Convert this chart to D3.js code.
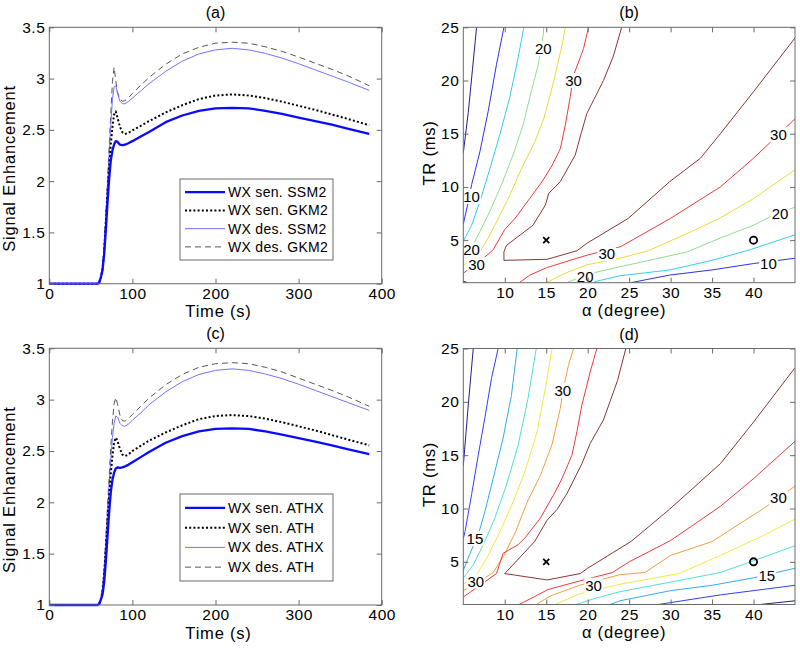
<!DOCTYPE html>
<html><head><meta charset="utf-8">
<script src="https://cdn.jsdelivr.net/npm/d3@7"></script>
<style>
body{margin:0;background:#fff}
text{font-family:"Liberation Sans",Arial,sans-serif;fill:#000}
</style>
</head><body>
<svg id="chart" width="800" height="649"></svg>
<script>
// ---------- line chart data (a) and (c) ----------
const time = [0,58,60,62,64,66,68,70,72,74,76,78,80,82,85,88,91,95,100,110,120,140,160,180,200,220,240,260,280,300,320,340,360,385];
const aSenSSM2 = [1,1,1.01,1.06,1.13,1.28,1.52,1.78,2.02,2.2,2.3,2.36,2.39,2.385,2.355,2.35,2.355,2.37,2.39,2.435,2.48,2.575,2.64,2.685,2.71,2.715,2.71,2.685,2.655,2.62,2.585,2.55,2.51,2.46];
const aSenGKM2 = [1,1,1.01,1.06,1.14,1.32,1.6,1.88,2.14,2.36,2.53,2.65,2.68,2.62,2.53,2.475,2.46,2.47,2.495,2.54,2.585,2.67,2.74,2.8,2.835,2.845,2.835,2.81,2.775,2.735,2.695,2.65,2.605,2.545];
const aDesSSM2 = [1,1,1.01,1.06,1.15,1.35,1.64,1.95,2.25,2.55,2.8,2.92,2.93,2.86,2.78,2.755,2.755,2.775,2.81,2.88,2.95,3.07,3.17,3.24,3.28,3.295,3.28,3.245,3.2,3.145,3.085,3.025,2.965,2.885];
const aDesGKM2 = [1,1,1.01,1.06,1.16,1.37,1.68,2.0,2.33,2.66,2.97,3.11,2.98,2.87,2.8,2.78,2.785,2.81,2.855,2.935,3.01,3.14,3.24,3.305,3.345,3.355,3.345,3.31,3.265,3.21,3.15,3.09,3.025,2.93];
const cSenATHX = [1,1,1.01,1.05,1.1,1.22,1.42,1.66,1.9,2.1,2.22,2.29,2.33,2.34,2.335,2.34,2.35,2.365,2.39,2.44,2.49,2.58,2.645,2.69,2.715,2.72,2.715,2.69,2.66,2.625,2.59,2.555,2.515,2.47];
const cSenATH  = [1,1,1.01,1.06,1.13,1.3,1.55,1.82,2.07,2.28,2.45,2.58,2.63,2.6,2.52,2.465,2.45,2.465,2.5,2.55,2.6,2.68,2.75,2.81,2.84,2.85,2.84,2.815,2.78,2.74,2.7,2.655,2.61,2.555];
const cDesATHX = [1,1,1.01,1.06,1.15,1.33,1.6,1.88,2.16,2.42,2.63,2.77,2.84,2.83,2.77,2.745,2.74,2.76,2.8,2.87,2.95,3.075,3.175,3.245,3.285,3.3,3.285,3.25,3.205,3.15,3.09,3.03,2.97,2.895];
const cDesATH  = [1,1,1.01,1.06,1.16,1.36,1.65,1.95,2.25,2.54,2.79,2.96,3.02,2.96,2.85,2.795,2.79,2.815,2.855,2.935,3.015,3.145,3.245,3.315,3.35,3.36,3.35,3.315,3.27,3.21,3.15,3.09,3.025,2.935];
const aLegend = ["WX sen. SSM2","WX sen. GKM2","WX des. SSM2","WX des. GKM2"];
const cLegend = ["WX sen. ATHX","WX sen. ATH","WX des. ATHX","WX des. ATH"];
const timeTicks = [0,100,200,300,400];
const seTicks = [1,1.5,2,2.5,3,3.5];

// ---------- contour data (b) and (d): [levelIndex, [[alpha, TR], ...]] ----------
const bLevels = [5,10,15,20,25,30,35];
const bSegments = [
  [0,[[6.6,25],[6.1,21],[5.6,17],[5,13.2]]],
  [0,[[5,1.15],[5.5,1]]],
  [1,[[9.9,25],[9.0,21.5],[8.0,17.1],[7.0,13.3],[6.0,10.2],[5.6,8.6],[5,6.5]]],
  [1,[[25.2,1],[29.9,1.72],[35,2.2],[40,2.8],[45,3.3]]],
  [2,[[12.3,25],[11.6,22.1],[10.6,18.4],[9.4,14.9],[8.2,11.7],[7.0,8.6],[6.0,6.4],[5,4.9]]],
  [2,[[20.3,1],[23.9,1.65],[29.9,2.2],[35,3.1],[39.6,4.1],[45,5.5]]],
  [3,[[14.7,25],[14.65,24.3],[14.05,21.5],[13.2,19.0],[12.2,15.8],[11.0,13.0],[9.6,10.2],[8.2,7.7],[7.0,5.8],[6.0,4.3],[5,3.5]]],
  [3,[[17.5,1],[20,1.8],[23.9,2.5],[28,3.2],[32,3.9],[36,5.2],[40,6.4],[42,7.2],[45,8.1]]],
  [4,[[17.3,25],[16.9,23.3],[15.9,19.9],[14.7,16.4],[13.6,14.2],[12.0,11.7],[10.6,9.2],[9.0,6.7],[8.0,5.2],[7.0,3.9],[5,2.6]]],
  [4,[[15.05,1],[17,1.8],[20,2.7],[23.9,3.3],[27.3,4.0],[32.5,5.8],[36,7.1],[40,8.9],[42,10],[45,11.6]]],
  [5,[[20.1,25],[19.5,23],[18.3,20.5],[17.9,18.5],[17.3,15.8],[16.7,13.6],[15.7,12.0],[14.5,10.5],[13.0,8.9],[11.2,7.0],[10,6.0],[8.6,4.1],[7,3.0],[5,1.9]]],
  [5,[[11.75,1],[13,1.7],[15,2.4],[18.7,3.3],[20,3.6],[24,4.4],[30,7.05],[36,10],[40,12.7],[45,16.4]]],
  [6,[[24.1,25],[23.1,22.3],[21.9,20.0],[19.9,16.9],[19.2,15.0],[18.5,13.0],[16.7,10.5],[15.3,9.4],[14.9,8.3],[13.4,6.4],[10.2,4.5],[9.9,3.9],[9.9,3.1],[15.1,3.2],[18.7,4.0],[19.9,4.7],[24.9,7.05],[29.9,10.5],[33.6,12.7],[36,15.0],[40,18.95],[45,24.0]]]
];
const bLabels = [["20",14.65,23.0],["30",18.3,20.0],["10",6.0,9.1],["20",6.0,4.1],["30",6.6,2.7],["30",22.3,3.75],["20",19.7,1.6],["30",43.0,14.9],["20",43.2,7.5],["10",41.8,2.8]];

const dLevels = [5,10,15,20,25,30,35,40];
const dSegments = [
  [0,[[6.2,25],[5.6,19.7],[5,14.0]]],
  [0,[[40.8,1],[45,1.35]]],
  [1,[[9.2,25],[8.4,22.2],[7.6,18.5],[6.8,15.0],[6.0,11.3],[5.2,7.8],[5,7.2]]],
  [1,[[28.5,1],[36,1.9],[45,2.8]]],
  [2,[[11.5,25],[10.8,20.6],[9.8,16.6],[8.6,12.8],[7.6,9.7],[6.9,7.8],[6.2,6.5],[5.5,5.2],[5,4.2]]],
  [2,[[22.7,1],[23.9,1.35],[30,2.3],[35,2.8],[40,3.5],[45,4.4]]],
  [3,[[13.8,25],[12.8,20.3],[11.6,15.9],[10.2,12.2],[8.8,9.1],[7.4,6.6],[6.2,4.7],[5,3.5]]],
  [3,[[18.6,1],[21,1.6],[23.9,2.2],[30,3.1],[36,4.0],[40,5.1],[45,6.5]]],
  [4,[[15.7,25],[14.9,21.3],[13.9,17.2],[12.4,13.4],[11.0,10.6],[9.4,7.8],[7.8,5.3],[6.6,3.8],[5,2.9]]],
  [4,[[16.1,1],[19,2.0],[23.9,2.9],[31,3.9],[36,5.6],[41,7.4],[45,9.0]]],
  [5,[[18.3,25],[17.7,23.5],[17.0,21.0],[16.7,19.4],[15.7,16.0],[14.3,13.1],[12.7,10.6],[11.3,7.8],[9.9,5.6],[8.6,4.0],[7.0,3.2],[5,2.3]]],
  [5,[[13.8,1],[15.5,1.8],[19,2.8],[23.9,3.8],[26.9,4.0],[30,5.6],[35,6.9],[41.2,10.0],[45,12.1]]],
  [6,[[21.1,25],[20.3,22.8],[19.3,19.7],[18.7,17.2],[18.1,15.0],[16.9,12.8],[15.9,11.3],[14.3,9.1],[12.5,7.3],[11.6,6.6],[9.8,5.8],[9.0,3.9],[7.0,2.8],[5,1.7]]],
  [6,[[11.7,1],[13.5,1.7],[15.2,2.4],[19,3.2],[23,4.0],[25,5.0],[30,7.0],[36,10.2],[40,12.8],[45,16.3]]],
  [7,[[24.6,25],[23.6,22.0],[21.9,18.3],[20.3,16.1],[19.3,14.2],[17.5,11.4],[16.3,9.9],[15.1,8.9],[13.6,6.9],[10.0,3.9],[15.1,3.3],[19.1,3.9],[20,4.4],[25.3,6.95],[29.9,9.95],[36,14.2],[40,18.1],[45,23.2]]]
];
const dLabels = [["30",17.0,21.1],["15",6.4,7.2],["30",6.5,3.2],["30",20.7,2.8],["30",43.0,11.0],["15",41.6,3.7]];
const markers = [["x",15,5],["o",40,5]];
const alphaTicks = [10,15,20,25,30,35,40];
const trTicks = [5,10,15,20,25];

// ---------- styles ----------
const bColors = ["#1f1f8f","#2f2ff5","#33ccee","#8fdd8f","#e8dc3a","#ee3b3b","#8c3535"];
const dColors = ["#1f1f8f","#2f3ff5","#33aaee","#55ddd0","#eeea45","#f0a040","#ee3b3b","#8c3535"];
const lineStyles = [
  {color:"#0a0aff", width:2.3, dash:null},
  {color:"#000", width:2, dash:"2,2.2"},
  {color:"#7373ff", width:1, dash:null},
  {color:"#555", width:1, dash:"6,4"}
];
const axisColor = "#6a6a6a";
const tickFont = "15.5px", labelFont = "16.5px", titleFont = "16px", legendFont = "14px", clabelFont = "15px";

const svg = d3.select("#chart");

function frame(g, x, y, xt, yt, W, H){
  g.append("g").attr("transform",`translate(0,${H})`)
    .call(d3.axisBottom(x).tickValues(xt).tickSize(-5).tickPadding(4).tickFormat(d3.format("")))
    .call(s=>s.select(".domain").remove());
  g.append("g").call(d3.axisTop(x).tickValues(xt).tickSize(-5).tickFormat(""))
    .call(s=>s.select(".domain").remove());
  g.append("g").call(d3.axisLeft(y).tickValues(yt).tickSize(-5).tickPadding(4).tickFormat(d3.format("")))
    .call(s=>s.select(".domain").remove());
  g.append("g").attr("transform",`translate(${W},0)`)
    .call(d3.axisRight(y).tickValues(yt).tickSize(-5).tickFormat(""))
    .call(s=>s.select(".domain").remove());
  g.selectAll(".tick line").attr("stroke",axisColor);
  g.selectAll(".tick text").style("font-size",tickFont).style("letter-spacing","0.5px").attr("font-family",null);
  g.append("rect").attr("width",W).attr("height",H).attr("fill","none").attr("stroke",axisColor).attr("stroke-width",1);
}

function linePanel(L, T, R, B, series, names, title, legBox){
  const W = R-L, H = B-T;
  const g = svg.append("g").attr("transform",`translate(${L},${T})`);
  const x = d3.scaleLinear().domain([0,400]).range([0,W]);
  const y = d3.scaleLinear().domain([1,3.5]).range([H,0]);
  const line = d3.line().x((d,i)=>x(time[i])).y(d=>y(d));
  [3,2,1,0].forEach(k=>{
    const st = lineStyles[k];
    g.append("path").datum(series[k]).attr("d",line).attr("fill","none")
      .attr("stroke",st.color).attr("stroke-width",st.width)
      .attr("stroke-dasharray",st.dash).attr("stroke-linejoin","round");
  });
  frame(g,x,y,timeTicks,seTicks,W,H);
  svg.append("text").attr("x",L+W/2).attr("y",T-9).attr("text-anchor","middle").style("font-size",titleFont).text(title);
  svg.append("text").attr("x",L+W/2+3).attr("y",B+33.5).attr("text-anchor","middle").style("font-size",labelFont).style("letter-spacing","0.8px").text("Time (s)");
  svg.append("text").attr("transform",`translate(${L-34},${T+H/2+13}) rotate(-90)`).attr("text-anchor","middle").style("font-size",labelFont).style("letter-spacing","0.8px").text("Signal Enhancement");
  const lg = svg.append("g").attr("transform",`translate(${legBox[0]},${legBox[1]})`);
  lg.append("rect").attr("width",legBox[2]).attr("height",legBox[3]).attr("fill","#fff").attr("stroke",axisColor);
  const rowH = (legBox[3]-8)/4;
  names.forEach((n,k)=>{
    const st = lineStyles[k];
    const yy = 4 + rowH*(k+0.5);
    lg.append("line").attr("x1",5).attr("x2",45).attr("y1",yy).attr("y2",yy)
      .attr("stroke",st.color).attr("stroke-width",st.width).attr("stroke-dasharray",st.dash);
    lg.append("text").attr("x",48).attr("y",yy+5).style("font-size",legendFont).style("letter-spacing","0.3px").text(n);
  });
}

function contourPanel(L, T, R, B, levels, segs, colors, labels, title){
  const W = R-L, H = B-T;
  const g = svg.append("g").attr("transform",`translate(${L},${T})`);
  const x = d3.scaleLinear().domain([5,45]).range([0,W]);
  const y = d3.scaleLinear().domain([1,25]).range([H,0]);
  const clipId = "clip"+title.replace(/\W/g,"");
  g.append("clipPath").attr("id",clipId).append("rect").attr("width",W).attr("height",H);
  const cg = g.append("g").attr("clip-path",`url(#${clipId})`);
  const line = d3.line().x(d=>x(d[0])).y(d=>y(d[1]));
  segs.forEach(s=>{
    cg.append("path").datum(s[1]).attr("d",line).attr("fill","none")
      .attr("stroke",colors[s[0]]).attr("stroke-width",1);
  });
  labels.forEach(l=>{
    const t = cg.append("text").attr("x",x(l[1])).attr("y",y(l[2])+5.5).attr("text-anchor","middle").style("font-size",clabelFont).text(l[0]);
    const bb = t.node().getBBox();
    cg.insert("rect","text").attr("x",bb.x-1).attr("y",bb.y+1).attr("width",bb.width+2).attr("height",bb.height-2).attr("fill","#fff");
  });
  cg.selectAll("text").raise();
  markers.forEach(m=>{
    const cx = x(m[1]), cy = y(m[2]);
    if(m[0]==="x"){
      cg.append("path").attr("d",`M${cx-3},${cy-3}L${cx+3},${cy+3}M${cx-3},${cy+3}L${cx+3},${cy-3}`)
        .attr("stroke","#000").attr("stroke-width",1.8);
    } else {
      cg.append("circle").attr("cx",cx).attr("cy",cy).attr("r",3.6)
        .attr("fill","none").attr("stroke","#000").attr("stroke-width",1.8);
    }
  });
  frame(g,x,y,alphaTicks,trTicks,W,H);
  svg.append("text").attr("x",L+W/2).attr("y",T-9).attr("text-anchor","middle").style("font-size",titleFont).text(title);
  svg.append("text").attr("x",L+W/2-5).attr("y",B+33.5).attr("text-anchor","middle").style("font-size",labelFont).style("letter-spacing","0.8px").text("α (degree)");
  svg.append("text").attr("transform",`translate(${L-28},${T+H/2-2}) rotate(-90)`).attr("text-anchor","middle").style("font-size",labelFont).style("letter-spacing","0.8px").text("TR (ms)");
}

linePanel(49.3,27.3,381.7,283.7,[aSenSSM2,aSenGKM2,aDesSSM2,aDesGKM2],aLegend,"(a)",[180,179,153,81]);
contourPanel(463.3,27.3,795,282.7,bLevels,bSegments,bColors,bLabels,"(b)");
linePanel(49.3,348.3,381.7,605,[cSenATHX,cSenATH,cDesATHX,cDesATH],cLegend,"(c)",[180,494,153,87]);
contourPanel(463.3,348.5,795,604.5,dLevels,dSegments,dColors,dLabels,"(d)");
</script>
</body></html>
